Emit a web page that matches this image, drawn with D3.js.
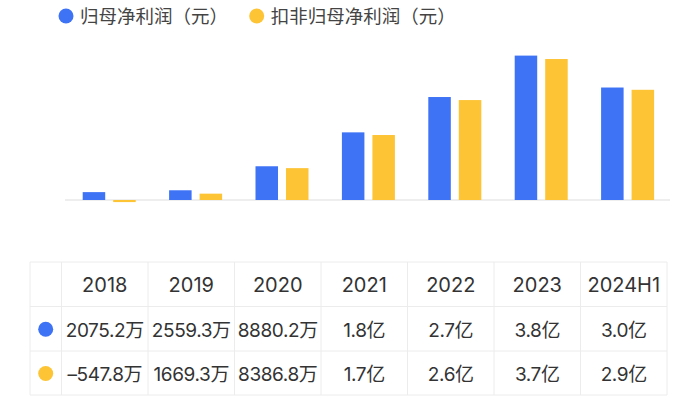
<!DOCTYPE html>
<html><head><meta charset="utf-8">
<script src="https://cdn.jsdelivr.net/npm/d3@7"></script>
<style>
html,body{margin:0;padding:0;background:#fff;}
svg{display:block;font-family:"Noto Sans CJK SC","Noto Sans",sans-serif;}
</style></head>
<body><svg id="c" width="700" height="403"></svg>
<script>
const years = ["2018","2019","2020","2021","2022","2023","2024H1"];
const seriesNames = ["归母净利润（元）","扣非归母净利润（元）"];
const seriesColors = ["#3F73F6","#FDC436"];
const netProfit = [2.0752e7, 2.5593e7, 8.8802e7, 1.78e8, 2.71e8, 3.80e8, 2.96e8];
const deductedProfit = [-5.478e6, 1.6693e7, 8.3868e7, 1.71e8, 2.63e8, 3.71e8, 2.90e8];
const netLabels = ["2075.2万","2559.3万","8880.2万","1.8亿","2.7亿","3.8亿","3.0亿"];
const deductedLabels = ["-547.8万","1669.3万","8386.8万","1.7亿","2.6亿","3.7亿","2.9亿"];

const svg = d3.select("#c");
const values = [netProfit, deductedProfit];
const labels = [netLabels, deductedLabels];
const tableFont = "Inter, 'Noto Sans CJK SC', sans-serif";

// Legend
const legendX = [66, 256.7];
seriesNames.forEach((name, i) => {
  const g = svg.append("g").attr("transform", `translate(${legendX[i]},16)`);
  g.append("circle").attr("r", 7.5).attr("fill", seriesColors[i]);
  g.append("text").attr("x", 14).attr("y", 0).attr("dy", "0.36em")
    .attr("font-size", 18.5).attr("fill", "#444").text(name);
});

// Bars
const x0 = d3.scaleBand().domain(years).range([66, 670.8]).paddingInner(0.3866).paddingOuter(0.1933);
const x1 = d3.scaleBand().domain([0, 1]).range([0, x0.bandwidth()]).paddingInner(0.262).paddingOuter(0);
const y = d3.scaleLinear().domain([0, 4e8]).range([200, 48]);

svg.append("line").attr("x1", 65).attr("x2", 670).attr("y1", y(0)).attr("y2", y(0))
  .attr("stroke", "#e9e9e9").attr("stroke-width", 1.5);

const groups = svg.append("g").selectAll("g").data(years).join("g")
  .attr("transform", d => `translate(${x0(d)},0)`);
groups.selectAll("rect").data((d, i) => [0, 1].map(s => ({s, v: values[s][i]}))).join("rect")
  .attr("x", d => x1(d.s)).attr("width", x1.bandwidth())
  .attr("y", d => y(Math.max(0, d.v)))
  .attr("height", d => Math.abs(y(d.v) - y(0)))
  .attr("fill", d => seriesColors[d.s]);

// Table
const tLeft = 30, tRight = 667, firstColR = 61.5;
const rowY = [262, 306.5, 351, 395];
const tx = d3.scaleBand().domain(years).range([firstColR, tRight]);
const tg = svg.append("g");
const borderColor = "#ececec";
rowY.forEach(yy => tg.append("line").attr("x1", tLeft).attr("x2", tRight).attr("y1", yy).attr("y2", yy)
  .attr("stroke", borderColor).attr("stroke-width", 1));
[tLeft, firstColR, ...years.map(yr => tx(yr) + tx.bandwidth())].forEach(xx =>
  tg.append("line").attr("x1", xx).attr("x2", xx).attr("y1", rowY[0]).attr("y2", rowY[3])
    .attr("stroke", borderColor).attr("stroke-width", 1));

const rowCenter = i => (rowY[i] + rowY[i + 1]) / 2;
tg.selectAll("text.h").data(years).join("text").attr("class", "h")
  .attr("x", d => tx(d) + tx.bandwidth() / 2).attr("y", rowCenter(0) + 1).attr("dy", "0.36em")
  .attr("text-anchor", "middle").attr("font-size", 20).attr("font-family", tableFont)
  .attr("fill", "#333").text(d => d);

[0, 1].forEach(s => {
  tg.append("circle").attr("cx", 45.7).attr("cy", rowCenter(s + 1) + 0.5).attr("r", 7.5).attr("fill", seriesColors[s]);
  tg.selectAll("text.r" + s).data(labels[s]).join("text").attr("class", "r" + s)
    .attr("x", (d, i) => tx(years[i]) + tx.bandwidth() / 2).attr("y", rowCenter(s + 1) + 1).attr("dy", "0.36em")
    .attr("text-anchor", "middle").attr("font-size", 19).attr("font-family", tableFont)
    .attr("letter-spacing", -0.4).attr("fill", "#333")
    .text(d => d.replace("-", "–"));
});
</script></body></html>
